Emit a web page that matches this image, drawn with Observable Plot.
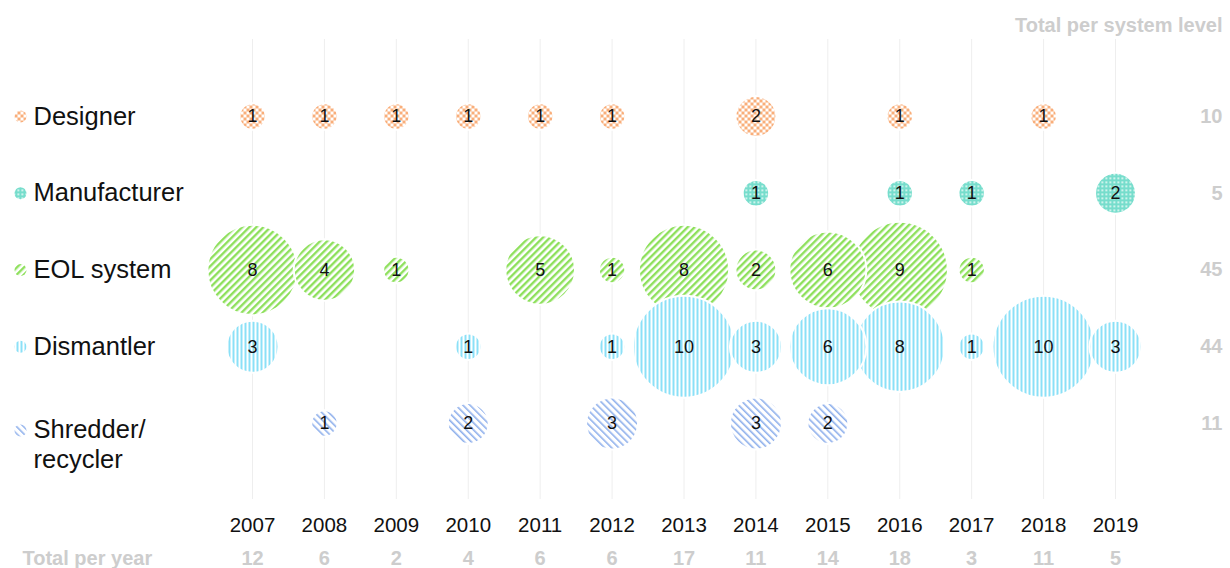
<!DOCTYPE html>
<html><head><meta charset="utf-8">
<script src="https://cdn.jsdelivr.net/npm/d3@7"></script>
<script src="https://cdn.jsdelivr.net/npm/@observablehq/plot@0.6"></script>
<style>body{margin:0;background:#fff;}</style>
</head><body><div id="chart"></div>
<script>
const years = [2007,2008,2009,2010,2011,2012,2013,2014,2015,2016,2017,2018,2019];
const levels = ["Designer","Manufacturer","EOL system","Dismantler","Shredder/recycler"];
const levelLabels = ["Designer","Manufacturer","EOL system","Dismantler","Shredder/\nrecycler"];
const designer     = [1,1,1,1,1,1,null,2,null,1,null,1,null];
const manufacturer = [null,null,null,null,null,null,null,1,null,1,1,null,2];
const eolSystem    = [8,4,1,null,5,1,8,2,6,9,1,null,null];
const dismantler   = [3,null,null,1,null,1,10,3,6,8,1,10,3];
const shredder     = [null,1,null,2,null,3,null,3,2,null,null,null,null];
const totalPerLevel = [10,5,45,44,11];
const totalPerYear = [12,6,2,4,6,6,17,11,14,18,3,11,5];

const seriesValues = [designer, manufacturer, eolSystem, dismantler, shredder];
const rows = [];
seriesValues.forEach((vals, li) => vals.forEach((v, yi) => {
  if (v != null) rows.push({level: levels[li], li, year: years[yi], value: v});
}));

const font = "'Liberation Sans', Arial, sans-serif";
const grey = "#cdcdcd";

const marks = [
  Plot.ruleX(years, {x: d => d, stroke: "#eeeeee", strokeWidth: 1})
];
levels.forEach((lv, i) => {
  marks.push(Plot.dot(rows.filter(d => d.li === i), {
    x: "year", y: "level", r: "value",
    fill: `url(#pat-${i})`, stroke: "white", strokeWidth: 2
  }));
});
marks.push(Plot.text(rows, {x: "year", y: "level", text: d => String(d.value), fontSize: 18, fill: "#111"}));
// legend icons
levels.forEach((lv, i) => {
  marks.push(Plot.dot([lv], {y: d => d, frameAnchor: "left", dx: 20, dy: i === 4 ? 7 : 0, r: 6, fill: `url(#pat-${i})`}));
});
// row labels
marks.push(Plot.text(levels.slice(0, 4), {y: d => d, text: (d, i) => levelLabels[i], frameAnchor: "left", dx: 33, textAnchor: "start", lineAnchor: "middle", fontSize: 25.5, fill: "#111"}));
marks.push(Plot.text([levels[4]], {y: d => d, text: () => levelLabels[4], frameAnchor: "left", dx: 33, dy: -7, lineAnchor: "top", lineHeight: 1.18, textAnchor: "start", fontSize: 25.5, fill: "#111"}));
// row totals
marks.push(Plot.text(levels, {y: d => d, text: (d, i) => String(totalPerLevel[i]), frameAnchor: "right", textAnchor: "end", lineAnchor: "middle", fontSize: 20, fontWeight: "bold", fill: grey}));
marks.push(Plot.text(["Total per system level"], {frameAnchor: "top-right", dy: -14, text: d => d, textAnchor: "end", lineAnchor: "middle", fontSize: 20, fontWeight: "bold", fill: grey}));
// year labels and totals
marks.push(Plot.text(years, {x: d => d, frameAnchor: "bottom", dy: 26, lineAnchor: "middle", text: d => String(d), fontSize: 20.5, fill: "#111"}));
marks.push(Plot.text(years, {x: d => d, frameAnchor: "bottom", dy: 59, lineAnchor: "middle", text: (d, i) => String(totalPerYear[i]), fontSize: 20, fontWeight: "bold", fill: grey}));
marks.push(Plot.text(["Total per year"], {frameAnchor: "bottom-left", dx: 22, dy: 59, lineAnchor: "middle", text: d => d, textAnchor: "start", fontSize: 20, fontWeight: "bold", fill: grey}));

const svg = Plot.plot({
  width: 1230, height: 568,
  marginTop: 39, marginBottom: 69, marginLeft: 0, marginRight: 8,
  style: {fontFamily: font, background: "#fff"},
  x: {type: "point", domain: years, range: [252, 1115], padding: 0, round: false, axis: null},
  y: {type: "point", domain: levels, range: [116, 423], padding: 0, round: false, axis: null},
  r: {type: "sqrt", domain: [0.06, 10], range: [0, 51]},
  marks
});

const defs = `
<pattern id="pat-0" patternUnits="userSpaceOnUse" width="6" height="6">
 <rect width="6" height="6" fill="#fff"/>
 <rect width="3" height="3" fill="#f9ae7a"/>
 <rect x="3" y="3" width="3" height="3" fill="#f9ae7a"/>
</pattern>
<pattern id="pat-1" patternUnits="userSpaceOnUse" width="4" height="4">
 <rect width="4" height="4" fill="#76ddcc"/>
 <rect x="1" y="1" width="1.6" height="1.6" fill="#fff"/>
</pattern>
<pattern id="pat-2" patternUnits="userSpaceOnUse" width="5" height="5" patternTransform="rotate(45)">
 <rect width="5" height="5" fill="#fff"/>
 <rect width="2.4" height="5" fill="#8ee05c"/>
</pattern>
<pattern id="pat-3" patternUnits="userSpaceOnUse" width="4" height="4">
 <rect width="4" height="4" fill="#fff"/>
 <rect width="2" height="4" fill="#8be0f7"/>
</pattern>
<pattern id="pat-4" patternUnits="userSpaceOnUse" width="5" height="5" patternTransform="rotate(-45)">
 <rect width="5" height="5" fill="#fff"/>
 <rect width="1.6" height="5" fill="#8fb0ec"/>
</pattern>`;
const d = document.createElementNS("http://www.w3.org/2000/svg", "defs");
d.innerHTML = defs;
svg.insertBefore(d, svg.firstChild);
document.getElementById("chart").appendChild(svg);
</script>
</body></html>
